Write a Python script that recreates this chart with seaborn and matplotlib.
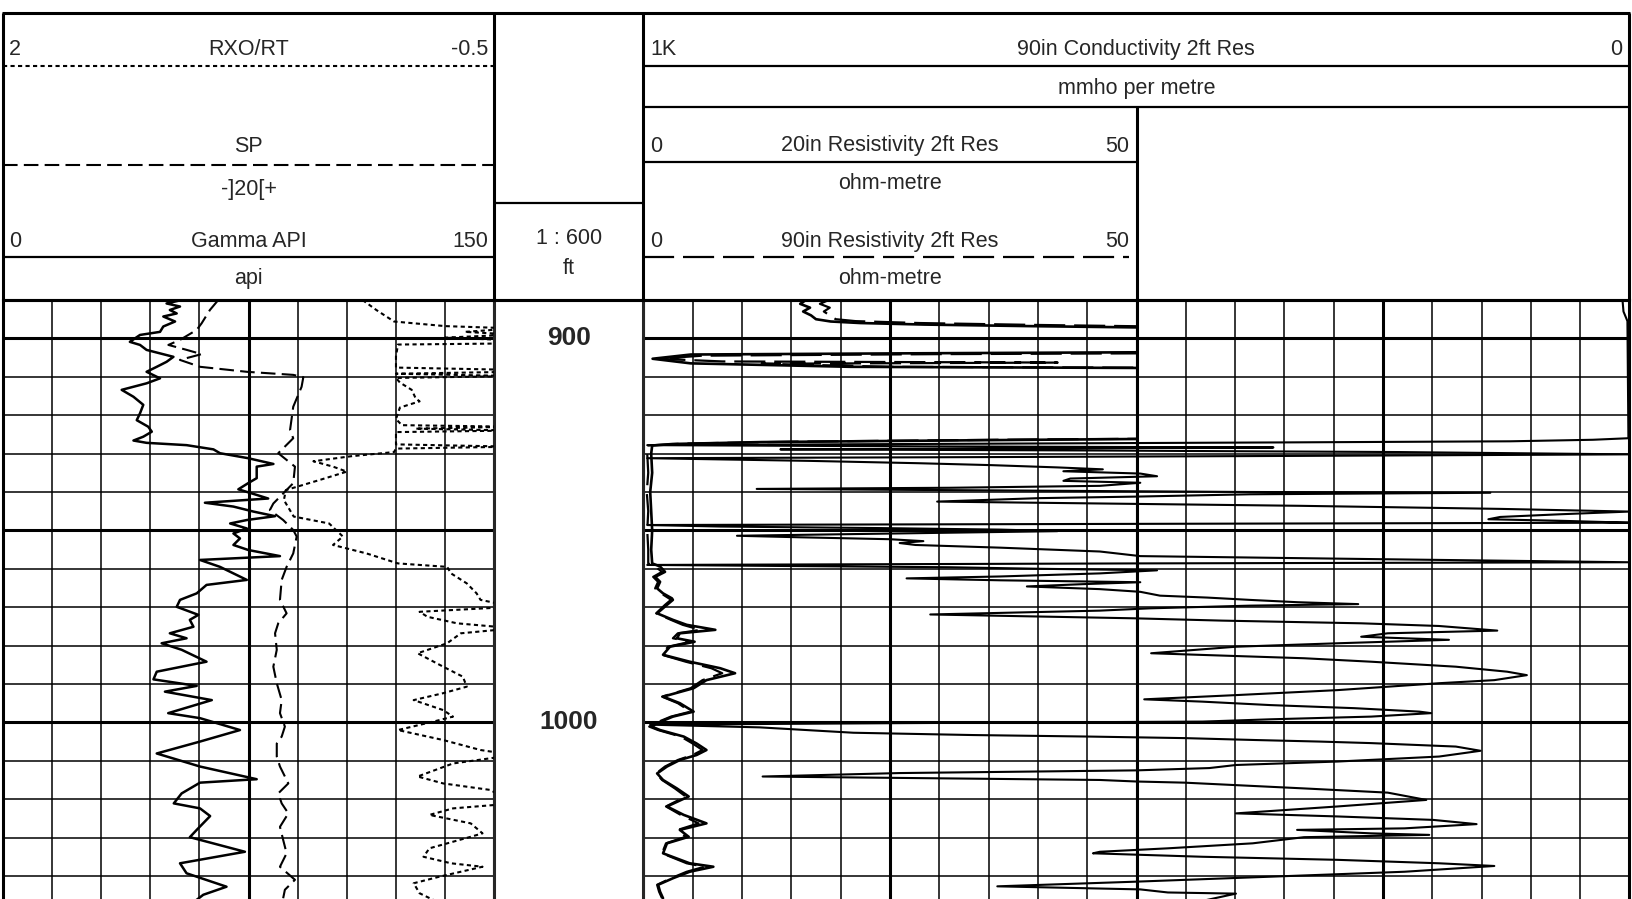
import numpy as np
import matplotlib
matplotlib.use("Agg")
import matplotlib.pyplot as plt
import seaborn as sns

sns.set_style("white")
plt.rcParams['font.family'] = ['Liberation Sans', 'DejaVu Sans']

# ---------------- log data (depth in ft) ----------------
gr_depth = [890.0, 890.9, 891.7, 892.6, 893.5, 894.3, 895.6, 896.9, 898.3, 899.1,
            900.9, 901.7, 903.0, 904.8, 906.1, 907.4, 908.7, 910.4, 911.7, 913.4,
            915.2, 917.3, 919.5, 921.3, 923.0, 924.3, 925.6, 926.6, 927.2, 927.8,
            928.9, 929.9, 931.2, 932.1, 932.7, 933.4, 934.7, 936.4, 937.7, 939.3,
            940.5, 941.7, 942.8, 943.8, 945.1, 946.3, 947.3, 948.2, 949.5, 950.8,
            952.1, 953.8, 955.1, 956.7, 957.7, 959.5, 961.2, 962.9, 964.2, 966.4,
            968.1, 969.9, 972.0, 973.3, 975.1, 976.8, 978.1, 979.4, 981.1, 984.2,
            986.8, 988.8, 990.5, 992.0, 994.2, 997.6, 998.9, 1002.0, 1005.0, 1008.1,
            1011.5, 1014.8, 1015.7, 1018.5, 1021.1, 1022.4, 1024.4, 1028.0, 1029.9, 1033.7,
            1036.7, 1039.3, 1042.8, 1044.9, 1047.0]
gr_api = [54.6, 50.0, 54.1, 51.0, 53.1, 49.0, 52.6, 49.0, 48.0, 41.9,
          38.8, 41.9, 43.9, 52.1, 50.0, 47.0, 43.9, 48.0, 43.9, 36.3,
          39.9, 42.9, 41.9, 40.9, 44.4, 45.5, 42.9, 39.9, 43.9, 56.1,
          64.3, 66.3, 74.9, 79.5, 82.6, 77.5, 77.5, 77.5, 74.9, 71.9,
          76.5, 81.0, 61.7, 70.4, 76.5, 83.1, 74.5, 69.4, 74.5, 70.4,
          72.4, 70.4, 74.9, 84.6, 60.2, 66.3, 70.4, 74.5, 62.2, 59.2,
          54.1, 53.1, 59.7, 57.1, 58.2, 51.0, 56.1, 48.5, 54.6, 62.2,
          47.0, 46.0, 59.2, 49.5, 63.8, 50.5, 60.2, 72.4, 60.2, 47.0,
          60.2, 77.5, 60.2, 54.6, 52.2, 60.2, 63.3, 59.2, 57.1, 73.9,
          54.1, 56.1, 68.3, 61.2, 58.0]

sp_depth = [890.0, 892.6, 896.1, 897.8, 900.4, 901.7, 903.0, 904.1, 905.6, 907.4,
            908.7, 909.5, 910.1, 912.6, 917.8, 923.9, 926.0, 929.9, 933.4, 937.7,
            940.4, 943.0, 944.7, 947.3, 949.9, 951.6, 956.0, 959.5, 962.9, 968.1,
            971.6, 974.2, 976.8, 981.1, 985.5, 989.8, 994.2, 997.6, 1001.1, 1003.7,
            1005.5, 1008.9, 1011.5, 1015.9, 1018.5, 1021.1, 1023.7, 1027.2, 1030.6, 1034.1,
            1037.6, 1041.0, 1043.6, 1045.8]
sp_mv = [-12.3, -15.7, -19.1, -21.1, -27.9, -32.6, -25.1, -19.1, -27.9, -19.7,
         -0.7, 18.2, 22.3, 21.6, 18.2, 16.9, 18.2, 12.1, 18.9, 18.2,
         14.1, 10.1, 8.7, 14.1, 18.2, 19.6, 18.2, 15.5, 13.5, 12.8,
         15.5, 12.1, 10.8, 11.5, 10.1, 11.5, 13.5, 12.8, 14.8, 13.5,
         11.5, 11.5, 12.8, 16.2, 12.1, 13.5, 16.2, 12.8, 14.1, 15.5,
         12.8, 18.9, 14.8, 14.1]

rxo_depth = [890.0, 892.6, 895.6, 896.2, 896.8, 897.4, 898.3, 899.0, 899.8, 900.5,
             901.3, 901.6, 904.7, 907.6, 908.2, 908.7, 909.2, 909.8, 910.3, 911.5,
             913.4, 915.6, 916.4, 918.0, 921.0, 922.6, 923.0, 923.5, 924.0, 924.4,
             927.6, 928.2, 928.7, 929.6, 930.7, 932.0, 933.4, 934.7, 936.9, 939.5,
             942.1, 946.4, 948.2, 951.6, 953.8, 956.0, 958.6, 959.5, 961.2, 963.8,
             966.4, 968.1, 969.9, 971.2, 972.5, 974.2, 975.5, 976.8, 979.4, 982.0,
             985.5, 988.1, 990.7, 992.4, 994.2, 996.8, 998.5, 999.8, 1002.0, 1004.6,
             1007.2, 1008.5, 1010.7, 1014.1, 1015.9, 1017.6, 1021.1, 1022.4, 1024.1, 1026.3,
             1028.9, 1029.8, 1032.8, 1035.0, 1036.7, 1037.6, 1040.2, 1041.9, 1044.5, 1046.5]
rxo_rt = [0.17, 0.10, 0.01, -0.12, -0.25, -0.6, -0.35, -0.6, -0.25, -0.6,
          -0.6, -0.01, 0.0, 0.0, -0.6, -0.6, 0.0, -0.6, 0.0, -0.02,
          -0.08, -0.10, -0.12, -0.02, 0.0, -0.03, -0.6, -0.1, -0.6, 0.0,
          0.0, -0.6, 0.0, 0.01, 0.23, 0.42, 0.32, 0.25, 0.39, 0.56,
          0.57, 0.52, 0.34, 0.27, 0.32, 0.15, -0.01, -0.26, -0.28, -0.36,
          -0.41, -0.43, -0.6, -0.12, -0.16, -0.31, -0.6, -0.33, -0.26, -0.11,
          -0.24, -0.34, -0.36, -0.24, -0.09, -0.24, -0.29, -0.19, -0.01, -0.24,
          -0.43, -0.6, -0.29, -0.11, -0.24, -0.48, -0.6, -0.29, -0.17, -0.38,
          -0.44, -0.38, -0.17, -0.14, -0.28, -0.44, -0.22, -0.09, -0.12, -0.2]

res20_depth = [890.0, 891.0, 892.0, 893.0, 894.0, 895.0, 895.6, 896.0, 896.4, 896.8,
               897.2, 897.5, 903.5, 903.9, 904.2, 905.3, 906.5, 907.4, 907.8, 926.0,
               926.5, 927.0, 927.5, 927.9, 930.0, 935.0, 940.0, 945.0, 950.0, 955.0,
               958.6, 959.4, 960.8, 962.1, 963.4, 965.1, 966.4, 967.7, 968.1, 969.4,
               971.6, 973.3, 974.6, 975.9, 976.8, 978.1, 979.0, 980.3, 982.4, 984.2,
               985.9, 987.2, 989.0, 991.1, 993.3, 995.0, 997.2, 998.5, 1000.2, 1001.1,
               1002.0, 1003.7, 1005.5, 1007.2, 1008.5, 1009.8, 1011.5, 1013.3, 1015.0, 1017.2,
               1019.3, 1021.9, 1024.1, 1026.3, 1028.0, 1029.8, 1031.5, 1034.1, 1036.7, 1037.6,
               1038.9, 1040.6, 1042.3, 1044.1, 1045.8]
res20_ohmm = [16.5, 15.9, 16.9, 16.2, 17.0, 17.5, 19.0, 22.0, 28.5, 39.0,
              52.0, 60.0, 60.0, 26.0, 4.8, 0.94, 4.8, 21.0, 60.0, 60.0,
              35.0, 12.0, 3.0, 0.9, 0.8, 0.9, 0.7, 0.8, 0.9, 0.8,
              0.9, 1.7, 2.2, 1.2, 1.7, 1.4, 2.0, 2.9, 3.0, 2.4,
              1.4, 3.0, 4.4, 7.3, 3.7, 3.4, 5.2, 2.7, 2.0, 4.7,
              7.8, 9.3, 6.4, 5.1, 2.0, 3.7, 5.1, 3.0, 1.4, 0.85,
              1.7, 4.1, 5.4, 6.4, 5.4, 3.7, 2.4, 1.4, 2.0, 3.4,
              4.6, 2.4, 4.1, 6.4, 3.7, 4.6, 2.4, 2.0, 4.7, 7.1,
              4.7, 3.0, 1.5, 1.7, 2.0]

res90_depth = [890.0, 891.0, 892.0, 893.0, 894.0, 895.0, 895.5, 896.0, 896.5, 896.9,
               897.2, 903.8, 904.1, 904.5, 905.3, 906.0, 906.3, 906.6, 907.4, 907.7,
               926.0, 926.3, 926.9, 927.4, 927.9, 930.0, 935.0, 940.0, 945.0, 950.0,
               955.0, 958.6, 959.4, 960.8, 962.1, 963.4, 965.1, 966.4, 967.7, 968.1,
               969.4, 971.6, 973.3, 974.6, 975.9, 976.8, 978.1, 979.0, 980.3, 982.4,
               984.2, 985.9, 987.2, 989.0, 991.1, 993.3, 995.0, 997.2, 998.5, 1000.2,
               1001.1, 1002.0, 1003.7, 1005.5, 1007.2, 1008.5, 1009.8, 1011.5, 1013.3, 1015.0,
               1017.2, 1019.3, 1021.9, 1024.1, 1026.3, 1028.0, 1029.8, 1031.5, 1034.1, 1036.7,
               1037.6, 1038.9, 1040.6, 1042.3, 1044.1, 1045.8]
res90_ohmm = [18.8, 17.9, 18.9, 18.3, 18.9, 19.5, 21.5, 28.0, 40.0, 52.0,
              60.0, 60.0, 30.0, 6.0, 1.5, 8.0, 42.0, 12.0, 25.0, 60.0,
              60.0, 40.0, 15.0, 4.0, 0.4, 0.4, 0.5, 0.35, 0.5, 0.4,
              0.5, 0.5, 1.2, 1.9, 1.0, 1.5, 1.2, 1.8, 2.6, 2.8,
              2.2, 1.3, 2.8, 4.0, 5.8, 3.5, 3.0, 4.8, 2.5, 1.9,
              4.3, 6.9, 8.0, 6.0, 4.8, 1.9, 3.5, 4.8, 2.8, 1.2,
              0.6, 1.5, 3.8, 5.0, 6.0, 5.0, 3.5, 2.2, 1.3, 1.9,
              3.2, 4.3, 2.3, 3.8, 5.6, 3.5, 4.3, 2.3, 1.9, 4.4,
              6.2, 4.4, 2.8, 1.4, 1.6, 1.9]

cond_depth = [890.0, 893.0, 895.5, 926.0, 926.4, 926.8, 927.1, 927.4, 927.8, 928.1,
              928.4, 928.7, 928.9, 929.2, 929.6, 930.2, 930.6, 930.9, 931.2, 931.9,
              932.5, 933.0, 933.6, 934.1, 934.6, 935.2, 935.9, 936.5, 937.1, 937.6,
              938.4, 938.9, 939.2, 939.6, 940.0, 940.2, 940.6, 941.2, 941.6, 942.5,
              943.0, 943.6, 944.4, 945.1, 945.8, 946.5, 947.1, 947.5, 948.0, 948.3,
              948.6, 949.0, 949.4, 949.8, 950.2, 950.8, 951.4, 951.8, 952.3, 952.8,
              953.3, 953.8, 954.5, 955.5, 956.7, 957.5, 958.3, 958.6, 959.0, 959.3,
              959.6, 960.0, 960.4, 961.2, 962.0, 962.5, 963.0, 963.5, 964.0, 964.6,
              965.3, 966.0, 967.0, 967.5, 968.1, 968.7, 969.2, 969.6, 970.3, 970.9,
              971.9, 972.9, 973.5, 974.2, 974.9, 976.1, 976.8, 977.7, 978.5, 979.4,
              980.3, 982.0, 983.3, 984.2, 985.5, 986.8, 987.7, 989.0, 989.8, 991.6,
              992.9, 994.0, 994.6, 995.5, 996.3, 997.2, 997.6, 998.5, 999.2, 999.8,
              1000.2, 1000.6, 1001.3, 1002.7, 1003.3, 1003.7, 1004.1, 1004.6, 1005.0, 1005.4,
              1006.3, 1007.4, 1008.9, 1010.2, 1011.1, 1011.9, 1012.5, 1013.2, 1014.1, 1014.6,
              1015.0, 1015.4, 1015.7, 1017.2, 1018.3, 1020.2, 1021.9, 1023.7, 1024.5, 1025.4,
              1026.5, 1027.6, 1028.0, 1028.9, 1029.3, 1029.9, 1031.5, 1032.8, 1033.7, 1034.1,
              1034.5, 1035.0, 1035.8, 1036.7, 1037.4, 1038.9, 1040.2, 1041.5, 1042.7, 1043.5,
              1044.3, 1044.6, 1046.5]
cond_mmho = [7, 6, 2, 1, 37, 121, 361, 638, 996, 740,
             361, 638, 861, 537, 233, 0, 334, 638, 996, 831,
             722, 648, 580, 534, 574, 496, 479, 567, 574, 496,
             537, 689, 885, 638, 385, 141, 385, 500, 598, 702,
             537, 334, 131, 0, 70, 131, 143, 70, 0, 500,
             996, 922, 760, 638, 580, 740, 905, 841, 750, 716,
             740, 724, 638, 537, 496, 253, 0, 500, 996, 841,
             689, 598, 479, 537, 638, 733, 638, 496, 554, 611,
             537, 496, 476, 428, 385, 337, 275, 385, 486, 537,
             709, 502, 413, 272, 193, 134, 245, 272, 183, 296,
             399, 485, 330, 262, 176, 124, 104, 137, 193, 296,
             399, 492, 433, 364, 279, 213, 201, 262, 364, 433,
             740, 993, 882, 787, 666, 547, 451, 379, 314, 262,
             176, 151, 193, 296, 399, 426, 500, 740, 879, 689,
             537, 500, 451, 330, 245, 206, 296, 399, 296, 199,
             155, 228, 337, 262, 203, 330, 382, 468, 537, 544,
             496, 433, 296, 193, 137, 228, 364, 502, 641, 496,
             468, 399, 433]

depth_labels = [900, 1000]
depth_top, depth_bottom = 890.0, 1046.0
gr_scale = (0, 150)
sp_scale = (-100, 100)
rxo_scale = (2, -0.5)
res_scale = (0, 50)
cond_scale = (1000, 0)

# ---------------- layout (pixels) ----------------
W, H = 1632, 899
TOP = 300.0
XL, XT1, XD, XT2, XR = 2.7, 494.3, 643.3, 1136.6, 1629.4
THIN, THICK = 1.1, 2.2
FS = 15.5

fig = plt.figure(figsize=(W / 100, H / 100), dpi=100)


def rect(x0, x1):
    return [x0 / W, 0, (x1 - x0) / W, (H - TOP) / H]


def grid_track(x0, x1):
    ax = fig.add_axes(rect(x0, x1))
    ax.set_xlim(0, 10)
    ax.set_ylim(depth_bottom, depth_top)
    ax.set_xticks(range(11))
    ax.set_yticks(np.arange(900, 1041, 10))
    ax.grid(True, color='black', lw=THIN)
    ax.tick_params(length=0, labelbottom=False, labelleft=False)
    ax.axvline(5, color='black', lw=THICK)
    for d in (900, 950, 1000):
        ax.axhline(d, color='black', lw=THICK)
    for s in ('left', 'right', 'top'):
        ax.spines[s].set_linewidth(THICK)
        ax.spines[s].set_color('black')
    ax.spines['bottom'].set_visible(False)
    return ax


def overlay(x0, x1):
    ax = fig.add_axes(rect(x0, x1))
    ax.set_axis_off()
    ax.patch.set_alpha(0)
    return ax


def curve(ax, vals, depth, xlim, **kw):
    sns.lineplot(x=vals, y=depth, ax=ax, sort=False, orient='y',
                 estimator=None, color='black', **kw)
    ax.set_xlim(*xlim)
    ax.set_ylim(depth_bottom, depth_top)


t1 = grid_track(XL, XT1)
t2 = grid_track(XD, XT2)
t3 = grid_track(XT2, XR)

# depth track
dax = fig.add_axes(rect(XT1, XD))
dax.set_ylim(depth_bottom, depth_top)
dax.set_xticks([]); dax.set_yticks([])
for s in ('left', 'right', 'top'):
    dax.spines[s].set_linewidth(THICK)
dax.spines['bottom'].set_visible(False)
for d in depth_labels:
    dax.text(0.5, d, str(d), transform=dax.get_yaxis_transform(),
             ha='center', va='center', fontsize=19, fontweight='bold')

# track 1 curves
curve(overlay(XL, XT1), gr_api, gr_depth, gr_scale, lw=1.8)
curve(overlay(XL, XT1), sp_mv, sp_depth, sp_scale, lw=1.5, linestyle=(0, (7, 3)))
curve(overlay(XL, XT1), rxo_rt, rxo_depth, rxo_scale, lw=1.5, linestyle=(0, (2, 1.6)))

# track 2 / 3 curves
curve(overlay(XD, XR), cond_mmho, cond_depth, cond_scale, lw=1.5)
curve(overlay(XD, XT2), res90_ohmm, res90_depth, res_scale, lw=1.6, linestyle=(0, (14, 4)))
curve(overlay(XD, XT2), res20_ohmm, res20_depth, res_scale, lw=1.9)

# ---------------- header ----------------
hd = fig.add_axes([0, 0, 1, 1])
hd.set_xlim(0, W)
hd.set_ylim(H, 0)
hd.set_axis_off()
hd.patch.set_alpha(0)


def hline(y, x0, x1, lw=1.6, **kw):
    hd.plot([x0, x1], [y, y], color='black', lw=lw, solid_capstyle='butt', **kw)


def vline(x, y0, y1, lw=THICK):
    hd.plot([x, x], [y0, y1], color='black', lw=lw, solid_capstyle='butt')


hline(12.7, XL - 1, XR + 1, lw=THICK)
for x in (XL, XT1, XD, XR):
    vline(x, 12.7, TOP)
vline(XT2, 107.3, TOP)
hline(TOP, XL, XR, lw=THICK)

# track 1 header
hline(65.7, XL, XT1, lw=1.5, linestyle=(0, (2, 1.6)))
hline(164.7, XL, XT1, lw=1.5, linestyle=(0, (7, 3)))
hline(257.3, XL, XT1)
mid1 = (XL + XT1) / 2
hd.text(9, 55, '2', fontsize=FS, ha='left', va='baseline')
hd.text(mid1, 55, 'RXO/RT', fontsize=FS, ha='center', va='baseline')
hd.text(488, 55, '-0.5', fontsize=FS, ha='right', va='baseline')
hd.text(mid1, 151.5, 'SP', fontsize=FS, ha='center', va='baseline')
hd.text(mid1, 195, '-]20[+', fontsize=FS, ha='center', va='baseline')
hd.text(9, 247, '0', fontsize=FS, ha='left', va='baseline')
hd.text(mid1, 247, 'Gamma API', fontsize=FS, ha='center', va='baseline')
hd.text(488, 247, '150', fontsize=FS, ha='right', va='baseline')
hd.text(mid1, 284, 'api', fontsize=FS, ha='center', va='baseline')

# depth header
hline(203.3, XT1, XD)
midd = (XT1 + XD) / 2
hd.text(midd, 244, '1 : 600', fontsize=FS, ha='center', va='baseline')
hd.text(midd, 274, 'ft', fontsize=FS, ha='center', va='baseline')

# track 2/3 header
mid23 = (XD + XR) / 2
mid2 = (XD + XT2) / 2
hline(65.7, XD, XR)
hline(107.3, XD, XR)
hd.text(650, 55, '1K', fontsize=FS, ha='left', va='baseline')
hd.text(mid23, 55, '90in Conductivity 2ft Res', fontsize=FS, ha='center', va='baseline')
hd.text(1622, 55, '0', fontsize=FS, ha='right', va='baseline')
hd.text(mid23, 94, 'mmho per metre', fontsize=FS, ha='center', va='baseline')
hline(162.3, XD, XT2)
hd.text(650, 151.5, '0', fontsize=FS, ha='left', va='baseline')
hd.text(mid2, 151.5, '20in Resistivity 2ft Res', fontsize=FS, ha='center', va='baseline')
hd.text(1129, 151.5, '50', fontsize=FS, ha='right', va='baseline')
hd.text(mid2, 189, 'ohm-metre', fontsize=FS, ha='center', va='baseline')
hline(257.3, XD, 1129, lw=1.6, linestyle=(0, (14, 4)))
hd.text(650, 247, '0', fontsize=FS, ha='left', va='baseline')
hd.text(mid2, 247, '90in Resistivity 2ft Res', fontsize=FS, ha='center', va='baseline')
hd.text(1129, 247, '50', fontsize=FS, ha='right', va='baseline')
hd.text(mid2, 284, 'ohm-metre', fontsize=FS, ha='center', va='baseline')

fig.savefig('out.png', dpi=100)
